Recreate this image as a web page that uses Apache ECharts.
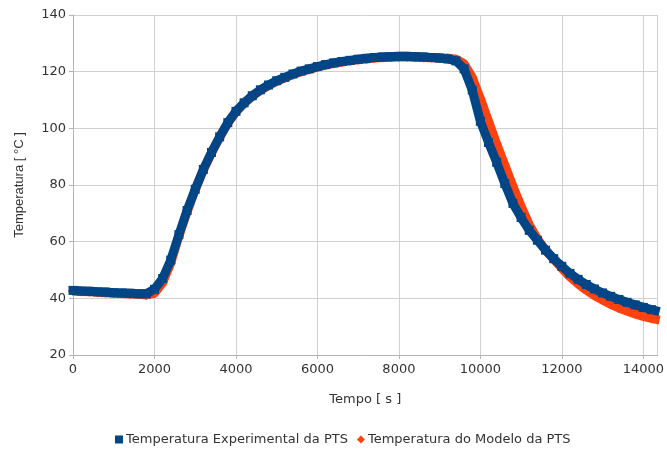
<!DOCTYPE html>
<html>
<head>
<meta charset="utf-8">
<script src="https://cdn.jsdelivr.net/npm/echarts@6/dist/echarts.min.js"></script>
<style>
  html, body { margin: 0; padding: 0; background: #fff; }
  #chart { width: 667px; height: 455px; }
</style>
</head>
<body>
<div id="chart"></div>
<script>
// tempo [s]
const tempo = [
  0, 200, 400, 600, 800, 1000, 1200, 1400, 1600, 1800,
  2000, 2200, 2400, 2600, 2800, 3000, 3200, 3400, 3600, 3800,
  4000, 4200, 4400, 4600, 4800, 5000, 5200, 5400, 5600, 5800,
  6000, 6200, 6400, 6600, 6800, 7000, 7200, 7400, 7600, 7800,
  8000, 8200, 8400, 8600, 8800, 9000, 9200, 9400, 9600, 9800,
  10000, 10200, 10400, 10600, 10800, 11000, 11200, 11400, 11600, 11800,
  12000, 12200, 12400, 12600, 12800, 13000, 13200, 13400, 13600, 13800,
  14000, 14200, 14400
]
// Temperatura Experimental da PTS [°C]
const experimental = [
  42.8, 42.6, 42.5, 42.3, 42.2, 42.0, 41.9, 41.8, 41.6, 41.6,
  43.2, 47.0, 53.5, 62.5, 71.0, 78.5, 85.5, 91.5, 97.0, 102.0,
  106.0, 109.0, 111.5, 113.6, 115.3, 116.8, 118.0, 119.2, 120.2, 121.0,
  121.8, 122.5, 123.1, 123.6, 124.0, 124.4, 124.7, 125.0, 125.2, 125.3,
  125.4, 125.4, 125.3, 125.2, 125.0, 124.8, 124.5, 123.8, 121.0, 113.5,
  102.5, 95.0, 88.0, 80.5, 73.5, 68.5, 64.0, 60.5, 57.0, 54.0,
  51.3, 48.8, 46.7, 44.9, 43.3, 41.9, 40.7, 39.6, 38.6, 37.7,
  36.8, 36.0, 35.3
]
// Temperatura do Modelo da PTS [°C]
const modelo = [
  42.6, 42.4, 42.3, 42.1, 42.0, 41.8, 41.7, 41.5, 41.4, 41.2,
  41.8, 45.5, 52.5, 62.0, 70.5, 78.3, 85.3, 91.3, 96.8, 101.8,
  105.8, 108.8, 111.3, 113.4, 115.1, 116.6, 117.8, 119.0, 120.0, 120.8,
  121.6, 122.3, 122.9, 123.4, 123.8, 124.2, 124.5, 124.8, 125.0, 125.1,
  125.2, 125.2, 125.1, 125.0, 124.9, 124.8, 124.7, 124.4, 122.8, 118.0,
  110.5, 102.5, 94.5, 87.0, 79.5, 72.5, 66.0, 61.0, 57.0, 53.8,
  50.6, 47.6, 45.1, 42.9, 41.0, 39.4, 37.9, 36.6, 35.5, 34.5,
  33.6, 32.9, 32.3
]
const yTicks = { min: 20, max: 140, interval: 20 }
const xTicks = { min: 0, max: 14350, interval: 2000 }

const axisGray = '#b3b3b3'
const gridGray = '#d0d0d0'
const textGray = '#333'
const labelFont = 'DejaVu Sans, sans-serif'

function pairs(values) {
  return tempo.map((t, i) => [t, values[i]])
}

const chart = echarts.init(document.getElementById('chart'))

chart.setOption({
  animation: false,
  textStyle: { fontFamily: labelFont },
  grid: {
    left: 73,
    right: 0,
    top: 15,
    bottom: 100
  },
  legend: {
    bottom: 4,
    left: 110,
    itemWidth: 8,
    itemHeight: 8,
    itemGap: 9,
    textStyle: { fontFamily: labelFont, fontSize: 13, color: textGray, padding: [0, 0, 0, -2] },
    data: [
      { name: 'Temperatura Experimental da PTS', icon: 'rect' },
      { name: 'Temperatura do Modelo da PTS', icon: 'diamond' }
    ]
  },
  xAxis: {
    type: 'value',
    min: xTicks.min,
    max: xTicks.max,
    interval: xTicks.interval,
    name: 'Tempo [ s ]',
    nameLocation: 'middle',
    nameGap: 38,
    nameTextStyle: { fontFamily: labelFont, fontSize: 13, color: textGray },
    axisLine: { show: true, lineStyle: { color: axisGray } },
    axisTick: { show: true, length: 4, lineStyle: { color: axisGray } },
    axisLabel: {
      fontFamily: labelFont,
      fontSize: 13,
      color: textGray,
      margin: 8,
      showMaxLabel: false,
      formatter: v => String(v)
    },
    splitLine: { show: true, lineStyle: { color: gridGray } }
  },
  yAxis: {
    type: 'value',
    min: yTicks.min,
    max: yTicks.max,
    interval: yTicks.interval,
    name: 'Temperatura [ °C ]',
    nameLocation: 'middle',
    nameGap: 47,
    nameTextStyle: { fontFamily: 'Liberation Sans, Arial, sans-serif', fontSize: 13, color: textGray },
    axisLine: { show: true, lineStyle: { color: axisGray } },
    axisTick: { show: true, length: 4, lineStyle: { color: axisGray } },
    axisLabel: { fontFamily: labelFont, fontSize: 13, color: textGray, margin: 7 },
    splitLine: { show: true, lineStyle: { color: gridGray } }
  },
  series: [
    {
      name: 'Temperatura do Modelo da PTS',
      type: 'line',
      data: pairs(modelo),
      z: 2,
      color: '#ff420e',
      symbol: 'diamond',
      symbolSize: 10,
      showAllSymbol: true,
      lineStyle: { width: 9, color: '#ff420e' },
      itemStyle: { color: '#ff420e', borderWidth: 0 }
    },
    {
      name: 'Temperatura Experimental da PTS',
      type: 'line',
      data: pairs(experimental),
      z: 3,
      color: '#004586',
      symbol: 'rect',
      symbolSize: 9,
      showAllSymbol: true,
      lineStyle: { width: 9, color: '#004586' },
      itemStyle: { color: '#004586', borderWidth: 0 }
    }
  ]
})
</script>
</body>
</html>
